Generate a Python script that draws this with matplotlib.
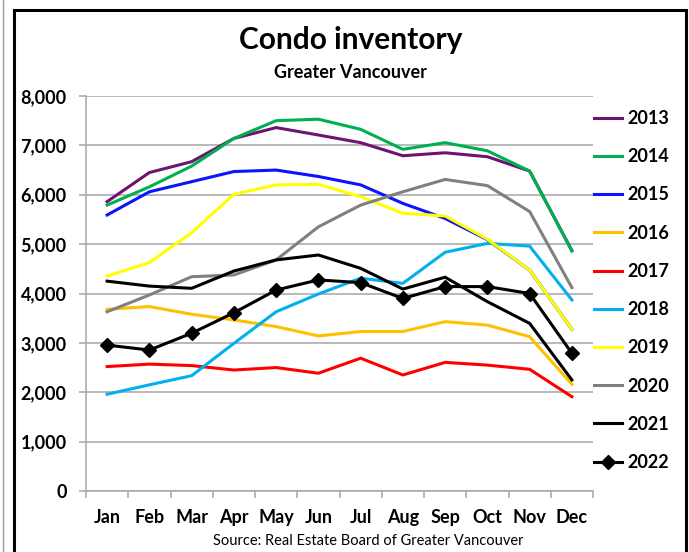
import numpy as np
import matplotlib.pyplot as plt
from matplotlib.lines import Line2D
from matplotlib.patches import Rectangle
from matplotlib.ticker import FuncFormatter, FixedLocator
###############################################################################
plt.rcParams['font.family'] = ['Lato', 'DejaVu Sans']
###############################################################################
MONTHS = ['Jan', 'Feb', 'Mar', 'Apr', 'May', 'Jun',
          'Jul', 'Aug', 'Sep', 'Oct', 'Nov', 'Dec']
YEARS = ['2013', '2014', '2015', '2016', '2017',
         '2018', '2019', '2020', '2021', '2022']

inv_2013 = [5860, 6450, 6670, 7140, 7360, 7210, 7055, 6790, 6850, 6770, 6480, 4870]
inv_2014 = [5790, 6160, 6580, 7140, 7500, 7530, 7325, 6920, 7055, 6890, 6480, 4860]
inv_2015 = [5590, 6060, 6265, 6470, 6500, 6370, 6200, 5825, 5520, 5090, 4475, 3275]
inv_2016 = [3680, 3735, 3580, 3465, 3330, 3140, 3230, 3230, 3430, 3360, 3125, 2160]
inv_2017 = [2520, 2570, 2540, 2450, 2500, 2385, 2690, 2350, 2605, 2550, 2465, 1910]
inv_2018 = [1960, 2150, 2335, 2990, 3630, 3990, 4310, 4205, 4835, 5015, 4960, 3870]
inv_2019 = [4355, 4625, 5230, 6010, 6200, 6210, 5960, 5625, 5570, 5100, 4475, 3275]
inv_2020 = [3630, 3970, 4340, 4375, 4680, 5350, 5790, 6060, 6310, 6185, 5660, 4120]
inv_2021 = [4250, 4150, 4105, 4455, 4680, 4780, 4510, 4090, 4330, 3835, 3395, 2250]
inv_2022 = [2955, 2855, 3195, 3610, 4070, 4275, 4220, 3900, 4140, 4140, 4000, 2790]

series = [inv_2013, inv_2014, inv_2015, inv_2016, inv_2017,
          inv_2018, inv_2019, inv_2020, inv_2021, inv_2022]
COLORS = ['#6e1470', '#00b050', '#0a14ff', '#ffc000', '#ff0000',
          '#00b0f0', '#ffff00', '#808080', '#000000', '#000000']
###############################################################################
fig = plt.figure(figsize=(6.89, 5.52), dpi=100)
ax = fig.add_axes([86 / 689, 1 - 491 / 552, (593 - 86) / 689, (491 - 96) / 552])

x = np.arange(len(MONTHS))
for year, vals, color in zip(YEARS, series, COLORS):
    if year == '2022':
        ax.plot(x, vals, color=color, lw=2.2, marker='D', markersize=7.5,
                label=year, zorder=3)
    else:
        ax.plot(x, vals, color=color, lw=2.2, label=year, zorder=3)

ax.set_xlim(-0.5, 11.5)
ax.set_ylim(0, 8000)
ax.set_yticks(np.arange(0, 8001, 1000))
ax.yaxis.set_major_formatter(FuncFormatter(lambda v, p: format(int(v), ',')))
ax.set_xticks(x)
ax.set_xticklabels(MONTHS)
ax.xaxis.set_minor_locator(FixedLocator(np.arange(-0.5, 12, 1)))

ax.grid(axis='y', color='#a6a6a6', lw=1.1, zorder=1)
ax.set_axisbelow(True)
for side in ['top', 'right']:
    ax.spines[side].set_visible(False)
for side in ['left', 'bottom']:
    ax.spines[side].set_color('#a6a6a6')
    ax.spines[side].set_linewidth(1.1)

ax.tick_params(axis='y', length=5, width=1.1, color='#a6a6a6', pad=9,
               labelsize=13)
ax.tick_params(axis='x', which='major', length=0, pad=13, labelsize=13)
ax.tick_params(axis='x', which='minor', length=5, width=1.1, color='#a6a6a6')
for lab in ax.get_xticklabels() + ax.get_yticklabels():
    lab.set_fontweight('bold')

leg = ax.legend(loc='upper left', bbox_to_anchor=(594 / 689, 1 - 110 / 552),
                bbox_transform=fig.transFigure, frameon=False,
                prop={'size': 13, 'weight': 'bold'}, handlelength=1.55,
                handletextpad=0.28, labelspacing=1.175, borderaxespad=0,
                borderpad=0)

fig.text(351 / 689, 1 - 40 / 552, 'Condo inventory', ha='center', va='center',
         fontsize=21.5, fontweight='bold')
fig.text(350 / 689, 1 - 72 / 552, 'Greater Vancouver', ha='center',
         va='center', fontsize=13, fontweight='bold')
fig.text(368 / 689, 1 - 541 / 552, 'Source: Real Estate Board of Greater Vancouver',
         ha='center', va='center', fontsize=10.5)

# frame around the chart
fig.add_artist(Rectangle((14 / 689, -0.05), (686 - 14) / 689, 1.05 - 10 / 552,
                         transform=fig.transFigure, fill=False,
                         edgecolor='black', lw=2.2))
fig.add_artist(Line2D([3 / 689, 3 / 689], [0, 1], transform=fig.transFigure,
                      color='#999999', lw=1))

fig.savefig('out.png', dpi=100)
